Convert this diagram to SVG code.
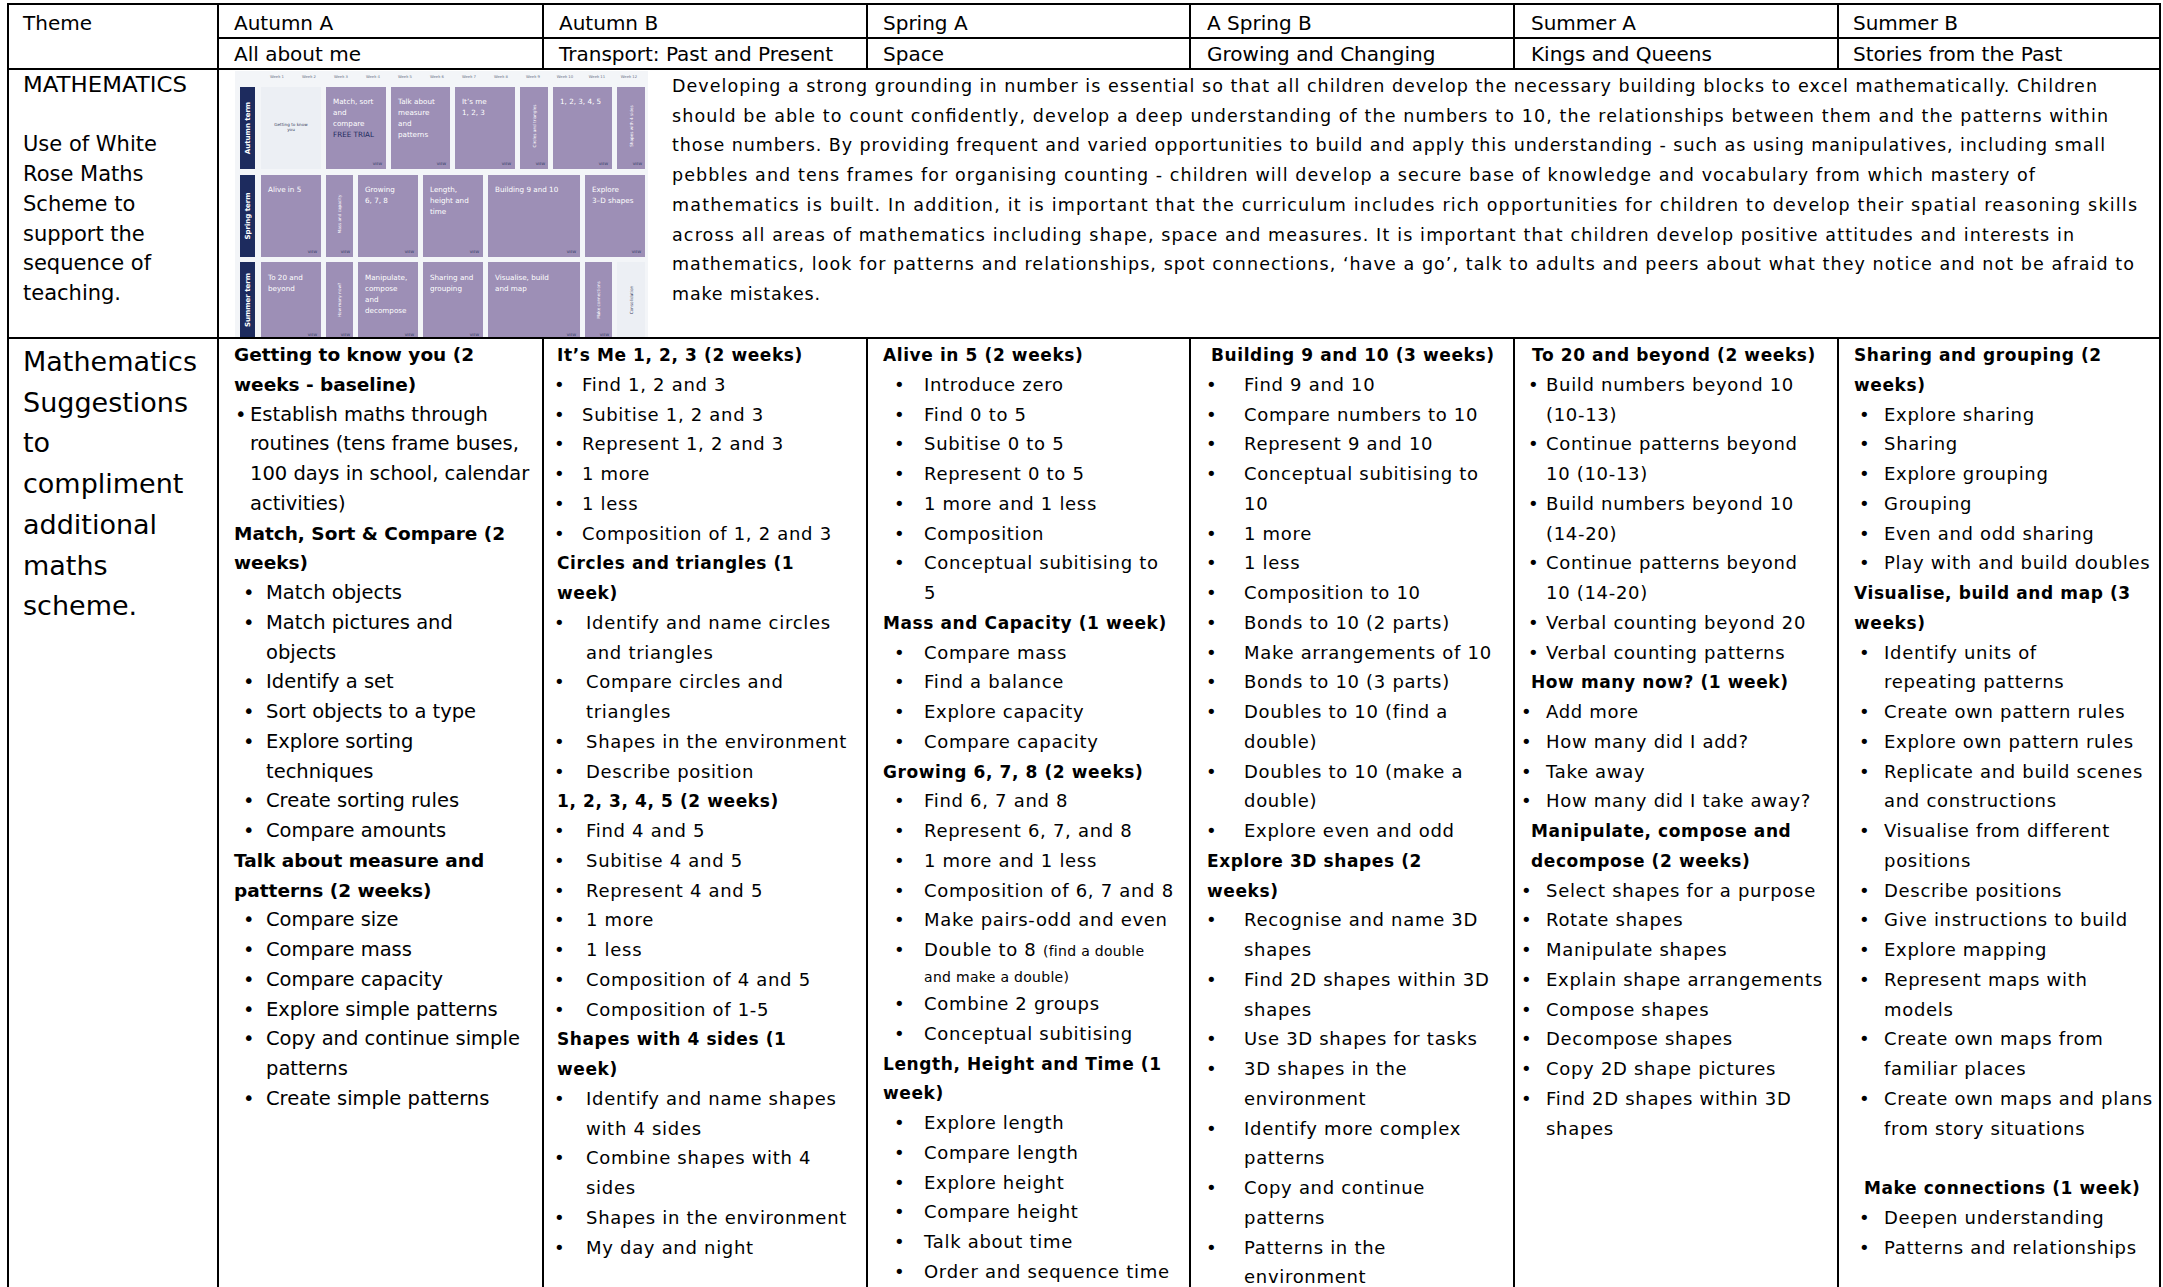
<svg xmlns="http://www.w3.org/2000/svg" width="2163" height="1287" viewBox="0 0 2163 1287">
<style>
text{font-family:"DejaVu Sans",sans-serif;fill:#000}
.hd{font-size:20px}
.m0{font-size:21px}
.p{font-size:17.5px}
.c0{font-size:27px}
.t1{font-size:19.5px}
.h1{font-size:18.5px;font-weight:bold}
.t{font-size:18px;letter-spacing:0.7px}
.h{font-size:17px;font-weight:bold;letter-spacing:0.6px}
.sm{font-size:14px;letter-spacing:0.3px}
.grid line{stroke:#000;stroke-width:2}
.cw{font-size:7.2px;fill:#fff}
.cn{font-size:7.2px;fill:#1d2b5e}
.vw{font-size:3.6px;fill:#2b3560;text-anchor:end}
.vt{font-size:4.2px;fill:#fff;text-anchor:middle}
.wk{font-size:3.8px;fill:#6a7388;text-anchor:middle}
.tm{font-size:7px;fill:#fff;text-anchor:middle;font-weight:bold}
.pu{fill:#9d8fb6}
.lg{fill:#eceff4}
.nv{fill:#1d2b5e}
</style>

<g id="header">
<text class="hd" x="23" y="30">Theme</text>
<text class="hd" x="234" y="30">Autumn A</text>
<text class="hd" x="559" y="30">Autumn B</text>
<text class="hd" x="883" y="30">Spring A</text>
<text class="hd" x="1207" y="30">A Spring B</text>
<text class="hd" x="1531" y="30">Summer A</text>
<text class="hd" x="1853" y="30">Summer B</text>
<text class="hd" x="234" y="61">All about me</text>
<text class="hd" x="559" y="61">Transport: Past and Present</text>
<text class="hd" x="883" y="61">Space</text>
<text class="hd" x="1207" y="61">Growing and Changing</text>
<text class="hd" x="1531" y="61">Kings and Queens</text>
<text class="hd" x="1853" y="61">Stories from the Past</text>
</g>

<g id="math-label">
<text class="m0" x="23" y="92" textLength="164" lengthAdjust="spacingAndGlyphs">MATHEMATICS</text>
<text class="m0" x="23" y="151.4">Use of White</text>
<text class="m0" x="23" y="181.1">Rose Maths</text>
<text class="m0" x="23" y="210.8">Scheme to</text>
<text class="m0" x="23" y="240.5">support the</text>
<text class="m0" x="23" y="270.2">sequence of</text>
<text class="m0" x="23" y="299.9">teaching.</text>
</g>

<g id="scheme-image">
<rect x="235" y="71" width="413" height="266" fill="#f3f5f8"/>
<g>
<text class="wk" x="277" y="78">Week 1</text><text class="wk" x="309" y="78">Week 2</text><text class="wk" x="341" y="78">Week 3</text><text class="wk" x="373" y="78">Week 4</text><text class="wk" x="405" y="78">Week 5</text><text class="wk" x="437" y="78">Week 6</text><text class="wk" x="469" y="78">Week 7</text><text class="wk" x="501" y="78">Week 8</text><text class="wk" x="533" y="78">Week 9</text><text class="wk" x="565" y="78">Week 10</text><text class="wk" x="597" y="78">Week 11</text><text class="wk" x="629" y="78">Week 12</text>
</g>
<rect class="nv" x="240" y="87" width="15" height="82"/>
<rect class="nv" x="240" y="175" width="15" height="82"/>
<rect class="nv" x="240" y="262" width="15" height="75"/>
<text class="tm" transform="translate(250,128) rotate(-90)">Autumn term</text>
<text class="tm" transform="translate(250,216) rotate(-90)">Spring term</text>
<text class="tm" transform="translate(250,300) rotate(-90)">Summer term</text>

<rect class="lg" x="261" y="87" width="60" height="82"/>
<text style="font-size:4.2px;fill:#3a4260;text-anchor:middle" x="291" y="126">Getting to know</text>
<text style="font-size:4.2px;fill:#3a4260;text-anchor:middle" x="291" y="131">you</text>
<rect class="pu" x="326" y="87" width="60" height="82"/>
<text class="cw" x="333" y="104">Match, sort</text><text class="cw" x="333" y="115">and</text><text class="cw" x="333" y="126">compare</text><text class="cn" x="333" y="137">FREE TRIAL</text><text class="vw" x="382" y="165">VIEW</text>
<rect class="pu" x="391" y="87" width="59" height="82"/>
<text class="cw" x="398" y="104">Talk about</text><text class="cw" x="398" y="115">measure</text><text class="cw" x="398" y="126">and</text><text class="cw" x="398" y="137">patterns</text><text class="vw" x="446" y="165">VIEW</text>
<rect class="pu" x="455" y="87" width="60" height="82"/>
<text class="cw" x="462" y="104">It’s me</text><text class="cw" x="462" y="115">1, 2, 3</text><text class="vw" x="511" y="165">VIEW</text>
<rect class="pu" x="520" y="87" width="28" height="82"/>
<text class="vt" transform="translate(536,126) rotate(-90)">Circles and triangles</text><text class="vw" x="545" y="165">VIEW</text>
<rect class="pu" x="553" y="87" width="59" height="82"/>
<text class="cw" x="560" y="104">1, 2, 3, 4, 5</text><text class="vw" x="608" y="165">VIEW</text>
<rect class="pu" x="617" y="87" width="28" height="82"/>
<text class="vt" transform="translate(633,126) rotate(-90)">Shapes with 4 sides</text><text class="vw" x="642" y="165">VIEW</text>

<rect class="pu" x="261" y="175" width="60" height="82"/>
<text class="cw" x="268" y="192">Alive in 5</text><text class="vw" x="317" y="253">VIEW</text>
<rect class="pu" x="326" y="175" width="27" height="82"/>
<text class="vt" transform="translate(341,214) rotate(-90)">Mass and capacity</text><text class="vw" x="350" y="253">VIEW</text>
<rect class="pu" x="358" y="175" width="60" height="82"/>
<text class="cw" x="365" y="192">Growing</text><text class="cw" x="365" y="203">6, 7, 8</text><text class="vw" x="414" y="253">VIEW</text>
<rect class="pu" x="423" y="175" width="60" height="82"/>
<text class="cw" x="430" y="192">Length,</text><text class="cw" x="430" y="203">height and</text><text class="cw" x="430" y="214">time</text><text class="vw" x="479" y="253">VIEW</text>
<rect class="pu" x="488" y="175" width="92" height="82"/>
<text class="cw" x="495" y="192">Building 9 and 10</text><text class="vw" x="576" y="253">VIEW</text>
<rect class="pu" x="585" y="175" width="60" height="82"/>
<text class="cw" x="592" y="192">Explore</text><text class="cw" x="592" y="203">3–D shapes</text><text class="vw" x="641" y="253">VIEW</text>

<rect class="pu" x="261" y="262" width="60" height="75"/>
<text class="cw" x="268" y="280">To 20 and</text><text class="cw" x="268" y="291">beyond</text><text class="vw" x="317" y="336">VIEW</text>
<rect class="pu" x="326" y="262" width="27" height="75"/>
<text class="vt" transform="translate(341,300) rotate(-90)">How many now?</text><text class="vw" x="350" y="336">VIEW</text>
<rect class="pu" x="358" y="262" width="60" height="75"/>
<text class="cw" x="365" y="280">Manipulate,</text><text class="cw" x="365" y="291">compose</text><text class="cw" x="365" y="302">and</text><text class="cw" x="365" y="313">decompose</text><text class="vw" x="414" y="336">VIEW</text>
<rect class="pu" x="423" y="262" width="60" height="75"/>
<text class="cw" x="430" y="280">Sharing and</text><text class="cw" x="430" y="291">grouping</text><text class="vw" x="479" y="336">VIEW</text>
<rect class="pu" x="488" y="262" width="92" height="75"/>
<text class="cw" x="495" y="280">Visualise, build</text><text class="cw" x="495" y="291">and map</text><text class="vw" x="576" y="336">VIEW</text>
<rect class="pu" x="585" y="262" width="27" height="75"/>
<text class="vt" transform="translate(600,300) rotate(-90)">Make connections</text><text class="vw" x="609" y="336">VIEW</text>
<rect class="lg" x="617" y="262" width="28" height="75"/>
<text class="vt" style="fill:#3a4260" transform="translate(633,300) rotate(-90)">Consolidation</text>
</g>

<g id="math-paragraph">
<text class="p" x="672" y="92" textLength="1425">Developing a strong grounding in number is essential so that all children develop the necessary building blocks to excel mathematically. Children</text>
<text class="p" x="672" y="121.7" textLength="1436">should be able to count confidently, develop a deep understanding of the numbers to 10, the relationships between them and the patterns within</text>
<text class="p" x="672" y="151.4" textLength="1433">those numbers. By providing frequent and varied opportunities to build and apply this understanding - such as using manipulatives, including small</text>
<text class="p" x="672" y="181.1" textLength="1363">pebbles and tens frames for organising counting - children will develop a secure base of knowledge and vocabulary from which mastery of</text>
<text class="p" x="672" y="210.8" textLength="1465">mathematics is built. In addition, it is important that the curriculum includes rich opportunities for children to develop their spatial reasoning skills</text>
<text class="p" x="672" y="240.5" textLength="1402">across all areas of mathematics including shape, space and measures. It is important that children develop positive attitudes and interests in</text>
<text class="p" x="672" y="270.2" textLength="1462">mathematics, look for patterns and relationships, spot connections, ‘have a go’, talk to adults and peers about what they notice and not be afraid to</text>
<text class="p" x="672" y="299.9" textLength="148">make mistakes.</text>
</g>

<g id="suggestions-label">
<text class="c0" x="23" y="371">Mathematics</text>
<text class="c0" x="23" y="411.7">Suggestions</text>
<text class="c0" x="23" y="452.4">to</text>
<text class="c0" x="23" y="493.1">compliment</text>
<text class="c0" x="23" y="533.8">additional</text>
<text class="c0" x="23" y="574.5">maths</text>
<text class="c0" x="23" y="615.2">scheme.</text>
</g>

<g id="col-autumn-a">
<text class="h1" x="234" y="361">Getting to know you (2</text>
<text class="h1" x="234" y="390.75">weeks - baseline)</text>
<text class="t1" x="235" y="420.5">•</text><text class="t1" x="250" y="420.5">Establish maths through</text>
<text class="t1" x="250" y="450.25">routines (tens frame buses,</text>
<text class="t1" x="250" y="480">100 days in school, calendar</text>
<text class="t1" x="250" y="509.75">activities)</text>
<text class="h1" x="234" y="539.5">Match, Sort &amp; Compare (2</text>
<text class="h1" x="234" y="569.25">weeks)</text>
<text class="t1" x="243" y="599">•</text><text class="t1" x="266" y="599">Match objects</text>
<text class="t1" x="243" y="628.75">•</text><text class="t1" x="266" y="628.75">Match pictures and</text>
<text class="t1" x="266" y="658.5">objects</text>
<text class="t1" x="243" y="688.25">•</text><text class="t1" x="266" y="688.25">Identify a set</text>
<text class="t1" x="243" y="718">•</text><text class="t1" x="266" y="718">Sort objects to a type</text>
<text class="t1" x="243" y="747.75">•</text><text class="t1" x="266" y="747.75">Explore sorting</text>
<text class="t1" x="266" y="777.5">techniques</text>
<text class="t1" x="243" y="807.25">•</text><text class="t1" x="266" y="807.25">Create sorting rules</text>
<text class="t1" x="243" y="837">•</text><text class="t1" x="266" y="837">Compare amounts</text>
<text class="h1" x="234" y="866.75">Talk about measure and</text>
<text class="h1" x="234" y="896.5">patterns (2 weeks)</text>
<text class="t1" x="243" y="926.25">•</text><text class="t1" x="266" y="926.25">Compare size</text>
<text class="t1" x="243" y="956">•</text><text class="t1" x="266" y="956">Compare mass</text>
<text class="t1" x="243" y="985.75">•</text><text class="t1" x="266" y="985.75">Compare capacity</text>
<text class="t1" x="243" y="1015.5">•</text><text class="t1" x="266" y="1015.5">Explore simple patterns</text>
<text class="t1" x="243" y="1045.25">•</text><text class="t1" x="266" y="1045.25">Copy and continue simple</text>
<text class="t1" x="266" y="1075">patterns</text>
<text class="t1" x="243" y="1104.75">•</text><text class="t1" x="266" y="1104.75">Create simple patterns</text>
</g>

<g id="col-autumn-b">
<text class="h" x="557" y="361">It’s Me 1, 2, 3 (2 weeks)</text>
<text class="t" x="554" y="390.75">•</text><text class="t" x="582" y="390.75">Find 1, 2 and 3</text>
<text class="t" x="554" y="420.5">•</text><text class="t" x="582" y="420.5">Subitise 1, 2 and 3</text>
<text class="t" x="554" y="450.25">•</text><text class="t" x="582" y="450.25">Represent 1, 2 and 3</text>
<text class="t" x="554" y="480">•</text><text class="t" x="582" y="480">1 more</text>
<text class="t" x="554" y="509.75">•</text><text class="t" x="582" y="509.75">1 less</text>
<text class="t" x="554" y="539.5">•</text><text class="t" x="582" y="539.5">Composition of 1, 2 and 3</text>
<text class="h" x="557" y="569.25">Circles and triangles (1</text>
<text class="h" x="557" y="599">week)</text>
<text class="t" x="554" y="628.75">•</text><text class="t" x="586" y="628.75">Identify and name circles</text>
<text class="t" x="586" y="658.5">and triangles</text>
<text class="t" x="554" y="688.25">•</text><text class="t" x="586" y="688.25">Compare circles and</text>
<text class="t" x="586" y="718">triangles</text>
<text class="t" x="554" y="747.75">•</text><text class="t" x="586" y="747.75">Shapes in the environment</text>
<text class="t" x="554" y="777.5">•</text><text class="t" x="586" y="777.5">Describe position</text>
<text class="h" x="557" y="807.25">1, 2, 3, 4, 5 (2 weeks)</text>
<text class="t" x="554" y="837">•</text><text class="t" x="586" y="837">Find 4 and 5</text>
<text class="t" x="554" y="866.75">•</text><text class="t" x="586" y="866.75">Subitise 4 and 5</text>
<text class="t" x="554" y="896.5">•</text><text class="t" x="586" y="896.5">Represent 4 and 5</text>
<text class="t" x="554" y="926.25">•</text><text class="t" x="586" y="926.25">1 more</text>
<text class="t" x="554" y="956">•</text><text class="t" x="586" y="956">1 less</text>
<text class="t" x="554" y="985.75">•</text><text class="t" x="586" y="985.75">Composition of 4 and 5</text>
<text class="t" x="554" y="1015.5">•</text><text class="t" x="586" y="1015.5">Composition of 1-5</text>
<text class="h" x="557" y="1045.25">Shapes with 4 sides (1</text>
<text class="h" x="557" y="1075">week)</text>
<text class="t" x="554" y="1104.75">•</text><text class="t" x="586" y="1104.75">Identify and name shapes</text>
<text class="t" x="586" y="1134.5">with 4 sides</text>
<text class="t" x="554" y="1164.25">•</text><text class="t" x="586" y="1164.25">Combine shapes with 4</text>
<text class="t" x="586" y="1194">sides</text>
<text class="t" x="554" y="1223.75">•</text><text class="t" x="586" y="1223.75">Shapes in the environment</text>
<text class="t" x="554" y="1253.5">•</text><text class="t" x="586" y="1253.5">My day and night</text>
</g>

<g id="col-spring-a">
<text class="h" x="883" y="361">Alive in 5 (2 weeks)</text>
<text class="t" x="894" y="390.75">•</text><text class="t" x="924" y="390.75">Introduce zero</text>
<text class="t" x="894" y="420.5">•</text><text class="t" x="924" y="420.5">Find 0 to 5</text>
<text class="t" x="894" y="450.25">•</text><text class="t" x="924" y="450.25">Subitise 0 to 5</text>
<text class="t" x="894" y="480">•</text><text class="t" x="924" y="480">Represent 0 to 5</text>
<text class="t" x="894" y="509.75">•</text><text class="t" x="924" y="509.75">1 more and 1 less</text>
<text class="t" x="894" y="539.5">•</text><text class="t" x="924" y="539.5">Composition</text>
<text class="t" x="894" y="569.25">•</text><text class="t" x="924" y="569.25">Conceptual subitising to</text>
<text class="t" x="924" y="599">5</text>
<text class="h" x="883" y="628.75">Mass and Capacity (1 week)</text>
<text class="t" x="894" y="658.5">•</text><text class="t" x="924" y="658.5">Compare mass</text>
<text class="t" x="894" y="688.25">•</text><text class="t" x="924" y="688.25">Find a balance</text>
<text class="t" x="894" y="718">•</text><text class="t" x="924" y="718">Explore capacity</text>
<text class="t" x="894" y="747.75">•</text><text class="t" x="924" y="747.75">Compare capacity</text>
<text class="h" x="883" y="777.5">Growing 6, 7, 8 (2 weeks)</text>
<text class="t" x="894" y="807.25">•</text><text class="t" x="924" y="807.25">Find 6, 7 and 8</text>
<text class="t" x="894" y="837">•</text><text class="t" x="924" y="837">Represent 6, 7, and 8</text>
<text class="t" x="894" y="866.75">•</text><text class="t" x="924" y="866.75">1 more and 1 less</text>
<text class="t" x="894" y="896.5">•</text><text class="t" x="924" y="896.5">Composition of 6, 7 and 8</text>
<text class="t" x="894" y="926.25">•</text><text class="t" x="924" y="926.25">Make pairs-odd and even</text>
<text class="t" x="894" y="956">•</text><text class="t" x="924" y="956">Double to 8 <tspan class="sm">(find a double</tspan></text>
<text class="sm" x="924" y="982">and make a double)</text>
<text class="t" x="894" y="1010">•</text><text class="t" x="924" y="1010">Combine 2 groups</text>
<text class="t" x="894" y="1039.75">•</text><text class="t" x="924" y="1039.75">Conceptual subitising</text>
<text class="h" x="883" y="1069.5">Length, Height and Time (1</text>
<text class="h" x="883" y="1099.25">week)</text>
<text class="t" x="894" y="1129">•</text><text class="t" x="924" y="1129">Explore length</text>
<text class="t" x="894" y="1158.75">•</text><text class="t" x="924" y="1158.75">Compare length</text>
<text class="t" x="894" y="1188.5">•</text><text class="t" x="924" y="1188.5">Explore height</text>
<text class="t" x="894" y="1218.25">•</text><text class="t" x="924" y="1218.25">Compare height</text>
<text class="t" x="894" y="1248">•</text><text class="t" x="924" y="1248">Talk about time</text>
<text class="t" x="894" y="1277.75">•</text><text class="t" x="924" y="1277.75">Order and sequence time</text>
</g>

<g id="col-spring-b">
<text class="h" x="1211" y="361">Building 9 and 10 (3 weeks)</text>
<text class="t" x="1206" y="390.75">•</text><text class="t" x="1244" y="390.75">Find 9 and 10</text>
<text class="t" x="1206" y="420.5">•</text><text class="t" x="1244" y="420.5">Compare numbers to 10</text>
<text class="t" x="1206" y="450.25">•</text><text class="t" x="1244" y="450.25">Represent 9 and 10</text>
<text class="t" x="1206" y="480">•</text><text class="t" x="1244" y="480">Conceptual subitising to</text>
<text class="t" x="1244" y="509.75">10</text>
<text class="t" x="1206" y="539.5">•</text><text class="t" x="1244" y="539.5">1 more</text>
<text class="t" x="1206" y="569.25">•</text><text class="t" x="1244" y="569.25">1 less</text>
<text class="t" x="1206" y="599">•</text><text class="t" x="1244" y="599">Composition to 10</text>
<text class="t" x="1206" y="628.75">•</text><text class="t" x="1244" y="628.75">Bonds to 10 (2 parts)</text>
<text class="t" x="1206" y="658.5">•</text><text class="t" x="1244" y="658.5">Make arrangements of 10</text>
<text class="t" x="1206" y="688.25">•</text><text class="t" x="1244" y="688.25">Bonds to 10 (3 parts)</text>
<text class="t" x="1206" y="718">•</text><text class="t" x="1244" y="718">Doubles to 10 (find a</text>
<text class="t" x="1244" y="747.75">double)</text>
<text class="t" x="1206" y="777.5">•</text><text class="t" x="1244" y="777.5">Doubles to 10 (make a</text>
<text class="t" x="1244" y="807.25">double)</text>
<text class="t" x="1206" y="837">•</text><text class="t" x="1244" y="837">Explore even and odd</text>
<text class="h" x="1207" y="866.75">Explore 3D shapes (2</text>
<text class="h" x="1207" y="896.5">weeks)</text>
<text class="t" x="1206" y="926.25">•</text><text class="t" x="1244" y="926.25">Recognise and name 3D</text>
<text class="t" x="1244" y="956">shapes</text>
<text class="t" x="1206" y="985.75">•</text><text class="t" x="1244" y="985.75">Find 2D shapes within 3D</text>
<text class="t" x="1244" y="1015.5">shapes</text>
<text class="t" x="1206" y="1045.25">•</text><text class="t" x="1244" y="1045.25">Use 3D shapes for tasks</text>
<text class="t" x="1206" y="1075">•</text><text class="t" x="1244" y="1075">3D shapes in the</text>
<text class="t" x="1244" y="1104.75">environment</text>
<text class="t" x="1206" y="1134.5">•</text><text class="t" x="1244" y="1134.5">Identify more complex</text>
<text class="t" x="1244" y="1164.25">patterns</text>
<text class="t" x="1206" y="1194">•</text><text class="t" x="1244" y="1194">Copy and continue</text>
<text class="t" x="1244" y="1223.75">patterns</text>
<text class="t" x="1206" y="1253.5">•</text><text class="t" x="1244" y="1253.5">Patterns in the</text>
<text class="t" x="1244" y="1283.25">environment</text>
</g>

<g id="col-summer-a">
<text class="h" x="1532" y="361">To 20 and beyond (2 weeks)</text>
<text class="t" x="1528" y="390.75">•</text><text class="t" x="1546" y="390.75">Build numbers beyond 10</text>
<text class="t" x="1546" y="420.5">(10-13)</text>
<text class="t" x="1528" y="450.25">•</text><text class="t" x="1546" y="450.25">Continue patterns beyond</text>
<text class="t" x="1546" y="480">10 (10-13)</text>
<text class="t" x="1528" y="509.75">•</text><text class="t" x="1546" y="509.75">Build numbers beyond 10</text>
<text class="t" x="1546" y="539.5">(14-20)</text>
<text class="t" x="1528" y="569.25">•</text><text class="t" x="1546" y="569.25">Continue patterns beyond</text>
<text class="t" x="1546" y="599">10 (14-20)</text>
<text class="t" x="1528" y="628.75">•</text><text class="t" x="1546" y="628.75">Verbal counting beyond 20</text>
<text class="t" x="1528" y="658.5">•</text><text class="t" x="1546" y="658.5">Verbal counting patterns</text>
<text class="h" x="1531" y="688.25">How many now? (1 week)</text>
<text class="t" x="1521" y="718">•</text><text class="t" x="1546" y="718">Add more</text>
<text class="t" x="1521" y="747.75">•</text><text class="t" x="1546" y="747.75">How many did I add?</text>
<text class="t" x="1521" y="777.5">•</text><text class="t" x="1546" y="777.5">Take away</text>
<text class="t" x="1521" y="807.25">•</text><text class="t" x="1546" y="807.25">How many did I take away?</text>
<text class="h" x="1531" y="837">Manipulate, compose and</text>
<text class="h" x="1531" y="866.75">decompose (2 weeks)</text>
<text class="t" x="1521" y="896.5">•</text><text class="t" x="1546" y="896.5">Select shapes for a purpose</text>
<text class="t" x="1521" y="926.25">•</text><text class="t" x="1546" y="926.25">Rotate shapes</text>
<text class="t" x="1521" y="956">•</text><text class="t" x="1546" y="956">Manipulate shapes</text>
<text class="t" x="1521" y="985.75">•</text><text class="t" x="1546" y="985.75">Explain shape arrangements</text>
<text class="t" x="1521" y="1015.5">•</text><text class="t" x="1546" y="1015.5">Compose shapes</text>
<text class="t" x="1521" y="1045.25">•</text><text class="t" x="1546" y="1045.25">Decompose shapes</text>
<text class="t" x="1521" y="1075">•</text><text class="t" x="1546" y="1075">Copy 2D shape pictures</text>
<text class="t" x="1521" y="1104.75">•</text><text class="t" x="1546" y="1104.75">Find 2D shapes within 3D</text>
<text class="t" x="1546" y="1134.5">shapes</text>
</g>

<g id="col-summer-b">
<text class="h" x="1854" y="361">Sharing and grouping (2</text>
<text class="h" x="1854" y="390.75">weeks)</text>
<text class="t" x="1859" y="420.5">•</text><text class="t" x="1884" y="420.5">Explore sharing</text>
<text class="t" x="1859" y="450.25">•</text><text class="t" x="1884" y="450.25">Sharing</text>
<text class="t" x="1859" y="480">•</text><text class="t" x="1884" y="480">Explore grouping</text>
<text class="t" x="1859" y="509.75">•</text><text class="t" x="1884" y="509.75">Grouping</text>
<text class="t" x="1859" y="539.5">•</text><text class="t" x="1884" y="539.5">Even and odd sharing</text>
<text class="t" x="1859" y="569.25">•</text><text class="t" x="1884" y="569.25">Play with and build doubles</text>
<text class="h" x="1854" y="599">Visualise, build and map (3</text>
<text class="h" x="1854" y="628.75">weeks)</text>
<text class="t" x="1859" y="658.5">•</text><text class="t" x="1884" y="658.5">Identify units of</text>
<text class="t" x="1884" y="688.25">repeating patterns</text>
<text class="t" x="1859" y="718">•</text><text class="t" x="1884" y="718">Create own pattern rules</text>
<text class="t" x="1859" y="747.75">•</text><text class="t" x="1884" y="747.75">Explore own pattern rules</text>
<text class="t" x="1859" y="777.5">•</text><text class="t" x="1884" y="777.5">Replicate and build scenes</text>
<text class="t" x="1884" y="807.25">and constructions</text>
<text class="t" x="1859" y="837">•</text><text class="t" x="1884" y="837">Visualise from different</text>
<text class="t" x="1884" y="866.75">positions</text>
<text class="t" x="1859" y="896.5">•</text><text class="t" x="1884" y="896.5">Describe positions</text>
<text class="t" x="1859" y="926.25">•</text><text class="t" x="1884" y="926.25">Give instructions to build</text>
<text class="t" x="1859" y="956">•</text><text class="t" x="1884" y="956">Explore mapping</text>
<text class="t" x="1859" y="985.75">•</text><text class="t" x="1884" y="985.75">Represent maps with</text>
<text class="t" x="1884" y="1015.5">models</text>
<text class="t" x="1859" y="1045.25">•</text><text class="t" x="1884" y="1045.25">Create own maps from</text>
<text class="t" x="1884" y="1075">familiar places</text>
<text class="t" x="1859" y="1104.75">•</text><text class="t" x="1884" y="1104.75">Create own maps and plans</text>
<text class="t" x="1884" y="1134.5">from story situations</text>
<text class="h" x="1864" y="1194">Make connections (1 week)</text>
<text class="t" x="1859" y="1223.75">•</text><text class="t" x="1884" y="1223.75">Deepen understanding</text>
<text class="t" x="1859" y="1253.5">•</text><text class="t" x="1884" y="1253.5">Patterns and relationships</text>
</g>

<g id="connectors" class="grid">
<line x1="7" y1="4" x2="2161" y2="4"/>
<line x1="218" y1="38" x2="2161" y2="38"/>
<line x1="7" y1="69" x2="2161" y2="69"/>
<line x1="7" y1="338" x2="2161" y2="338"/>
<line x1="8" y1="3" x2="8" y2="1287"/>
<line x1="218" y1="3" x2="218" y2="1287"/>
<line x1="2160" y1="3" x2="2160" y2="1287"/>
<line x1="543" y1="3" x2="543" y2="69"/>
<line x1="867" y1="3" x2="867" y2="69"/>
<line x1="1190" y1="3" x2="1190" y2="69"/>
<line x1="1514" y1="3" x2="1514" y2="69"/>
<line x1="1838" y1="3" x2="1838" y2="69"/>
<line x1="543" y1="338" x2="543" y2="1287"/>
<line x1="867" y1="338" x2="867" y2="1287"/>
<line x1="1190" y1="338" x2="1190" y2="1287"/>
<line x1="1514" y1="338" x2="1514" y2="1287"/>
<line x1="1838" y1="338" x2="1838" y2="1287"/>
</g>
</svg>
